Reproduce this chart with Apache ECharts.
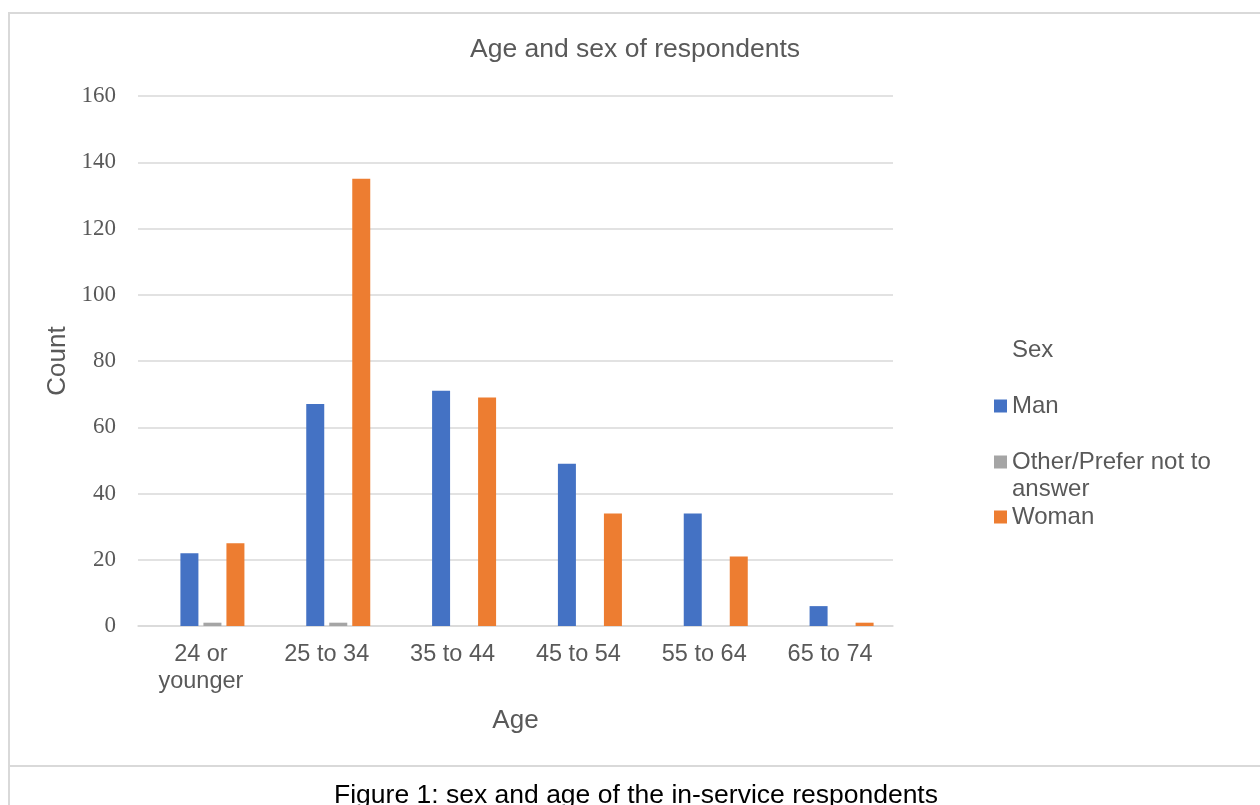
<!DOCTYPE html>
<html>
<head>
<meta charset="utf-8">
<title>Age and sex of respondents</title>
<script src="https://cdn.jsdelivr.net/npm/echarts@6/dist/echarts.min.js"></script>
<style>
  html, body { margin: 0; padding: 0; background: #ffffff; }
  #chart { width: 1260px; height: 805px; }
</style>
</head>
<body>
<div id="chart"></div>
<script>
// Age bands on the category axis
const ageBands = ['24 or\nyounger', '25 to 34', '35 to 44', '45 to 54', '55 to 64', '65 to 74'];

// Respondent counts per age band
const manCounts = [22, 67, 71, 49, 34, 6];
const otherCounts = [1, 1, 0, 0, 0, 0];
const womanCounts = [25, 135, 69, 34, 21, 1];

// "Sex" is an empty header series: it keeps its slot in each bar group
// and shows as the legend heading without a swatch
const sexHeaderCounts = [];

// Value axis ticks
const countTicks = { min: 0, max: 160, interval: 20 };

const GREY_TEXT = '#595959';
const RULE = '#d9d9d9';
const SANS = "'Liberation Sans', Arial, sans-serif";
const SERIF = "'Liberation Serif', 'Times New Roman', serif";

const chart = echarts.init(document.getElementById('chart'), null, { renderer: 'canvas' });

function legendFor(name, top, formatter) {
  const l = {
    data: [name],
    orient: 'vertical',
    left: 994,
    top: top,
    padding: 0,
    icon: 'rect',
    itemWidth: 13,
    itemHeight: 13,
    selectedMode: false,
    textStyle: { color: GREY_TEXT, fontSize: 24, fontFamily: SANS, lineHeight: 27 }
  };
  if (formatter) l.formatter = formatter;
  return l;
}

const option = {
  backgroundColor: '#ffffff',
  animation: false,
  legend: [
    legendFor('Sex', 336.5),
    legendFor('Man', 392.5),
    legendFor('Other/Prefer not to answer', 421.5, function () {
      return '\nOther/Prefer not to\nanswer';
    }),
    legendFor('Woman', 503.5)
  ],
  grid: { left: 138, right: 367, top: 96, bottom: 179, containLabel: false },
  xAxis: {
    type: 'category',
    data: ageBands,
    name: 'Age',
    nameLocation: 'middle',
    nameGap: 82,
    nameTextStyle: { color: GREY_TEXT, fontSize: 26, fontFamily: SANS },
    axisTick: { show: false },
    axisLine: { lineStyle: { color: RULE, width: 1.5 } },
    axisLabel: {
      color: GREY_TEXT,
      fontSize: 23.5,
      fontFamily: SANS,
      lineHeight: 27,
      margin: 15,
      interval: 0
    }
  },
  yAxis: {
    type: 'value',
    min: countTicks.min,
    max: countTicks.max,
    interval: countTicks.interval,
    name: 'Count',
    nameLocation: 'middle',
    nameGap: 64,
    nameTextStyle: { color: GREY_TEXT, fontSize: 26, fontFamily: SANS },
    axisLine: { show: false },
    axisTick: { show: false },
    axisLabel: { color: GREY_TEXT, fontSize: 23, fontFamily: SERIF, margin: 22 },
    splitLine: { lineStyle: { color: RULE, width: 1.5 } }
  },
  series: [
    {
      name: 'Sex', type: 'bar', data: sexHeaderCounts,
      barWidth: 18, barGap: '27.8%',
      itemStyle: { color: 'rgba(0,0,0,0)' }
    },
    {
      name: 'Man', type: 'bar', data: manCounts,
      barWidth: 18, barGap: '27.8%',
      itemStyle: { color: '#4472C4' }
    },
    {
      name: 'Other/Prefer not to answer', type: 'bar', data: otherCounts,
      barWidth: 18, barGap: '27.8%',
      itemStyle: { color: '#A5A5A5' }
    },
    {
      name: 'Woman', type: 'bar', data: womanCounts,
      barWidth: 18, barGap: '27.8%',
      itemStyle: { color: '#ED7D31' }
    }
  ],
  graphic: [
    // chart title
    {
      type: 'text', x: 635, y: 50, silent: true,
      style: {
        text: 'Age and sex of respondents',
        fill: GREY_TEXT, font: "26.5px 'Liberation Sans', Arial, sans-serif",
        textAlign: 'center', textVerticalAlign: 'middle'
      }
    },
    // figure caption under the frame rule
    {
      type: 'text', x: 636, y: 795.5, silent: true,
      style: {
        text: 'Figure 1: sex and age of the in-service respondents',
        fill: '#000000', font: "26.5px 'Liberation Sans', Arial, sans-serif",
        textAlign: 'center', textVerticalAlign: 'middle'
      }
    },
    // chart frame: left edge, top edge, and the rule above the caption
    { type: 'line', shape: { x1: 9, y1: 12, x2: 9, y2: 805 }, style: { stroke: RULE, lineWidth: 2 }, silent: true },
    { type: 'line', shape: { x1: 9, y1: 13, x2: 1260, y2: 13 }, style: { stroke: RULE, lineWidth: 2 }, silent: true },
    { type: 'line', shape: { x1: 9, y1: 766, x2: 1260, y2: 766 }, style: { stroke: RULE, lineWidth: 2 }, silent: true }
  ]
};

chart.setOption(option);
</script>
</body>
</html>
